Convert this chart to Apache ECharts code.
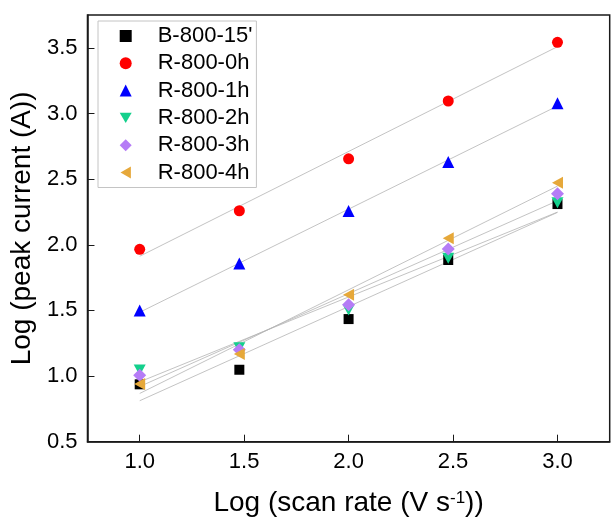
<!DOCTYPE html>
<html>
<head>
<meta charset="utf-8">
<script src="https://cdn.jsdelivr.net/npm/echarts@6/dist/echarts.min.js"></script>
<style>
  html, body { margin: 0; padding: 0; background: #fff; }
  #chart { width: 611px; height: 523px; }
</style>
</head>
<body>
<div id="chart"></div>
<script>
// log(scan rate) values, shared by every sample
var xValues = [1.0, 1.477, 2.0, 2.477, 3.0];

// log(peak current)
var b800_15 = [0.937, 1.048, 1.434, 1.884, 2.31];
var r800_0h = [1.965, 2.259, 2.655, 3.095, 3.542];
var r800_1h = [1.50, 1.857, 2.257, 2.63, 3.077];
var r800_2h = [1.046, 1.216, 1.503, 1.897, 2.32];
var r800_3h = [1.006, 1.20, 1.543, 1.968, 2.389];
var r800_4h = [0.94, 1.168, 1.62, 2.049, 2.472];

var seriesNames = ["B-800-15'", 'R-800-0h', 'R-800-1h', 'R-800-2h', 'R-800-3h', 'R-800-4h'];
var xTicks = [1.0, 1.5, 2.0, 2.5, 3.0];
var yTicks = [0.5, 1.0, 1.5, 2.0, 2.5, 3.0, 3.5];

var FONT = 'Liberation Sans, Arial, sans-serif';

// down / left triangles as paths, the legend ignores symbolRotate
var TRI_DOWN = 'path://M0,0 L10,0 L5,8.66 Z';
var TRI_LEFT = 'path://M8.66,0 L8.66,10 L0,5 Z';

var samples = [
    {name: seriesNames[0], y: b800_15, color: '#000000', symbol: 'rect', size: 10},
    {name: seriesNames[1], y: r800_0h, color: '#ff0000', symbol: 'circle', size: 11},
    {name: seriesNames[2], y: r800_1h, color: '#0000ff', symbol: 'triangle', size: 12},
    {name: seriesNames[3], y: r800_2h, color: '#14d08c', symbol: TRI_DOWN, size: [12, 11]},
    {name: seriesNames[4], y: r800_3h, color: '#b57cf6', symbol: 'diamond', size: 13},
    {name: seriesNames[5], y: r800_4h, color: '#e6a83a', symbol: TRI_LEFT, size: [11, 12]}
];

// least squares fit, drawn from x=1 to x=3 like the original
function linearFit(xs, ys) {
    var n = xs.length, sx = 0, sy = 0, sxx = 0, sxy = 0;
    for (var i = 0; i < n; i++) {
        sx += xs[i]; sy += ys[i];
        sxx += xs[i] * xs[i]; sxy += xs[i] * ys[i];
    }
    var k = (n * sxy - sx * sy) / (n * sxx - sx * sx);
    var b = (sy - k * sx) / n;
    var x0 = xs[0], x1 = xs[n - 1];
    return [[x0, b + k * x0], [x1, b + k * x1]];
}

var series = [];
samples.forEach(function(s) {
    series.push({
        type: 'line',
        data: linearFit(xValues, s.y),
        symbol: 'none',
        silent: true,
        z: 1,
        lineStyle: {color: '#b4b4b4', width: 0.8}
    });
});
samples.forEach(function(s) {
    series.push({
        name: s.name,
        type: 'scatter',
        data: xValues.map(function(x, i) { return [x, s.y[i]]; }),
        symbol: s.symbol,
        symbolSize: s.size,
        z: 3,
        itemStyle: {color: s.color, opacity: 1}
    });
});

var legendData = samples.map(function(s) {
    return {name: s.name, icon: s.symbol};
});

var chart = echarts.init(document.getElementById('chart'));

var option = {
    backgroundColor: '#ffffff',
    animation: false,
    textStyle: {fontFamily: FONT},
    grid: {
        left: 84.3, right: 1.3, top: 15, bottom: 81.3,
        show: true, borderColor: '#1a1a1a', borderWidth: 1.5
    },
    legend: {
        data: legendData,
        orient: 'vertical',
        left: 98, top: 21,
        padding: [4, 4, 4, 21.7],
        itemGap: 5.3,
        itemWidth: 12, itemHeight: 12,
        borderColor: '#c4c4c4', borderWidth: 1,
        textStyle: {fontSize: 22, color: '#000', fontFamily: FONT, lineHeight: 22, padding: [0, 0, 0, 21]}
    },
    xAxis: {
        type: 'value',
        min: 0.75, max: 3.25,
        name: 'Log (scan rate (V s{sup|-1}))',
        nameLocation: 'middle',
        nameGap: 48,
        nameTextStyle: {
            fontSize: 28, color: '#000', fontFamily: FONT,
            rich: {sup: {fontSize: 17, verticalAlign: 'top', color: '#000', fontFamily: FONT}}
        },
        axisLine: {show: true, lineStyle: {color: '#1a1a1a', width: 1.5}},
        axisTick: {show: true, inside: true, length: 7, customValues: xTicks, lineStyle: {color: '#1a1a1a', width: 1}},
        axisLabel: {
            customValues: xTicks, margin: 9, fontSize: 22, color: '#000', fontFamily: FONT,
            formatter: function(v) { return v.toFixed(1); }
        },
        splitLine: {show: false}
    },
    yAxis: {
        type: 'value',
        min: 0.5, max: 3.75,
        name: 'Log (peak current (A))',
        nameLocation: 'middle',
        nameGap: 44,
        nameTextStyle: {fontSize: 28, color: '#000', fontFamily: FONT},
        axisLine: {show: true, lineStyle: {color: '#1a1a1a', width: 1.5}},
        axisTick: {show: true, inside: true, length: 7, customValues: yTicks, lineStyle: {color: '#1a1a1a', width: 1}},
        axisLabel: {
            customValues: yTicks, margin: 10, fontSize: 22, color: '#000', fontFamily: FONT,
            formatter: function(v) { return v.toFixed(1); }
        },
        splitLine: {show: false}
    },
    series: series
};

chart.setOption(option);
</script>
</body>
</html>
